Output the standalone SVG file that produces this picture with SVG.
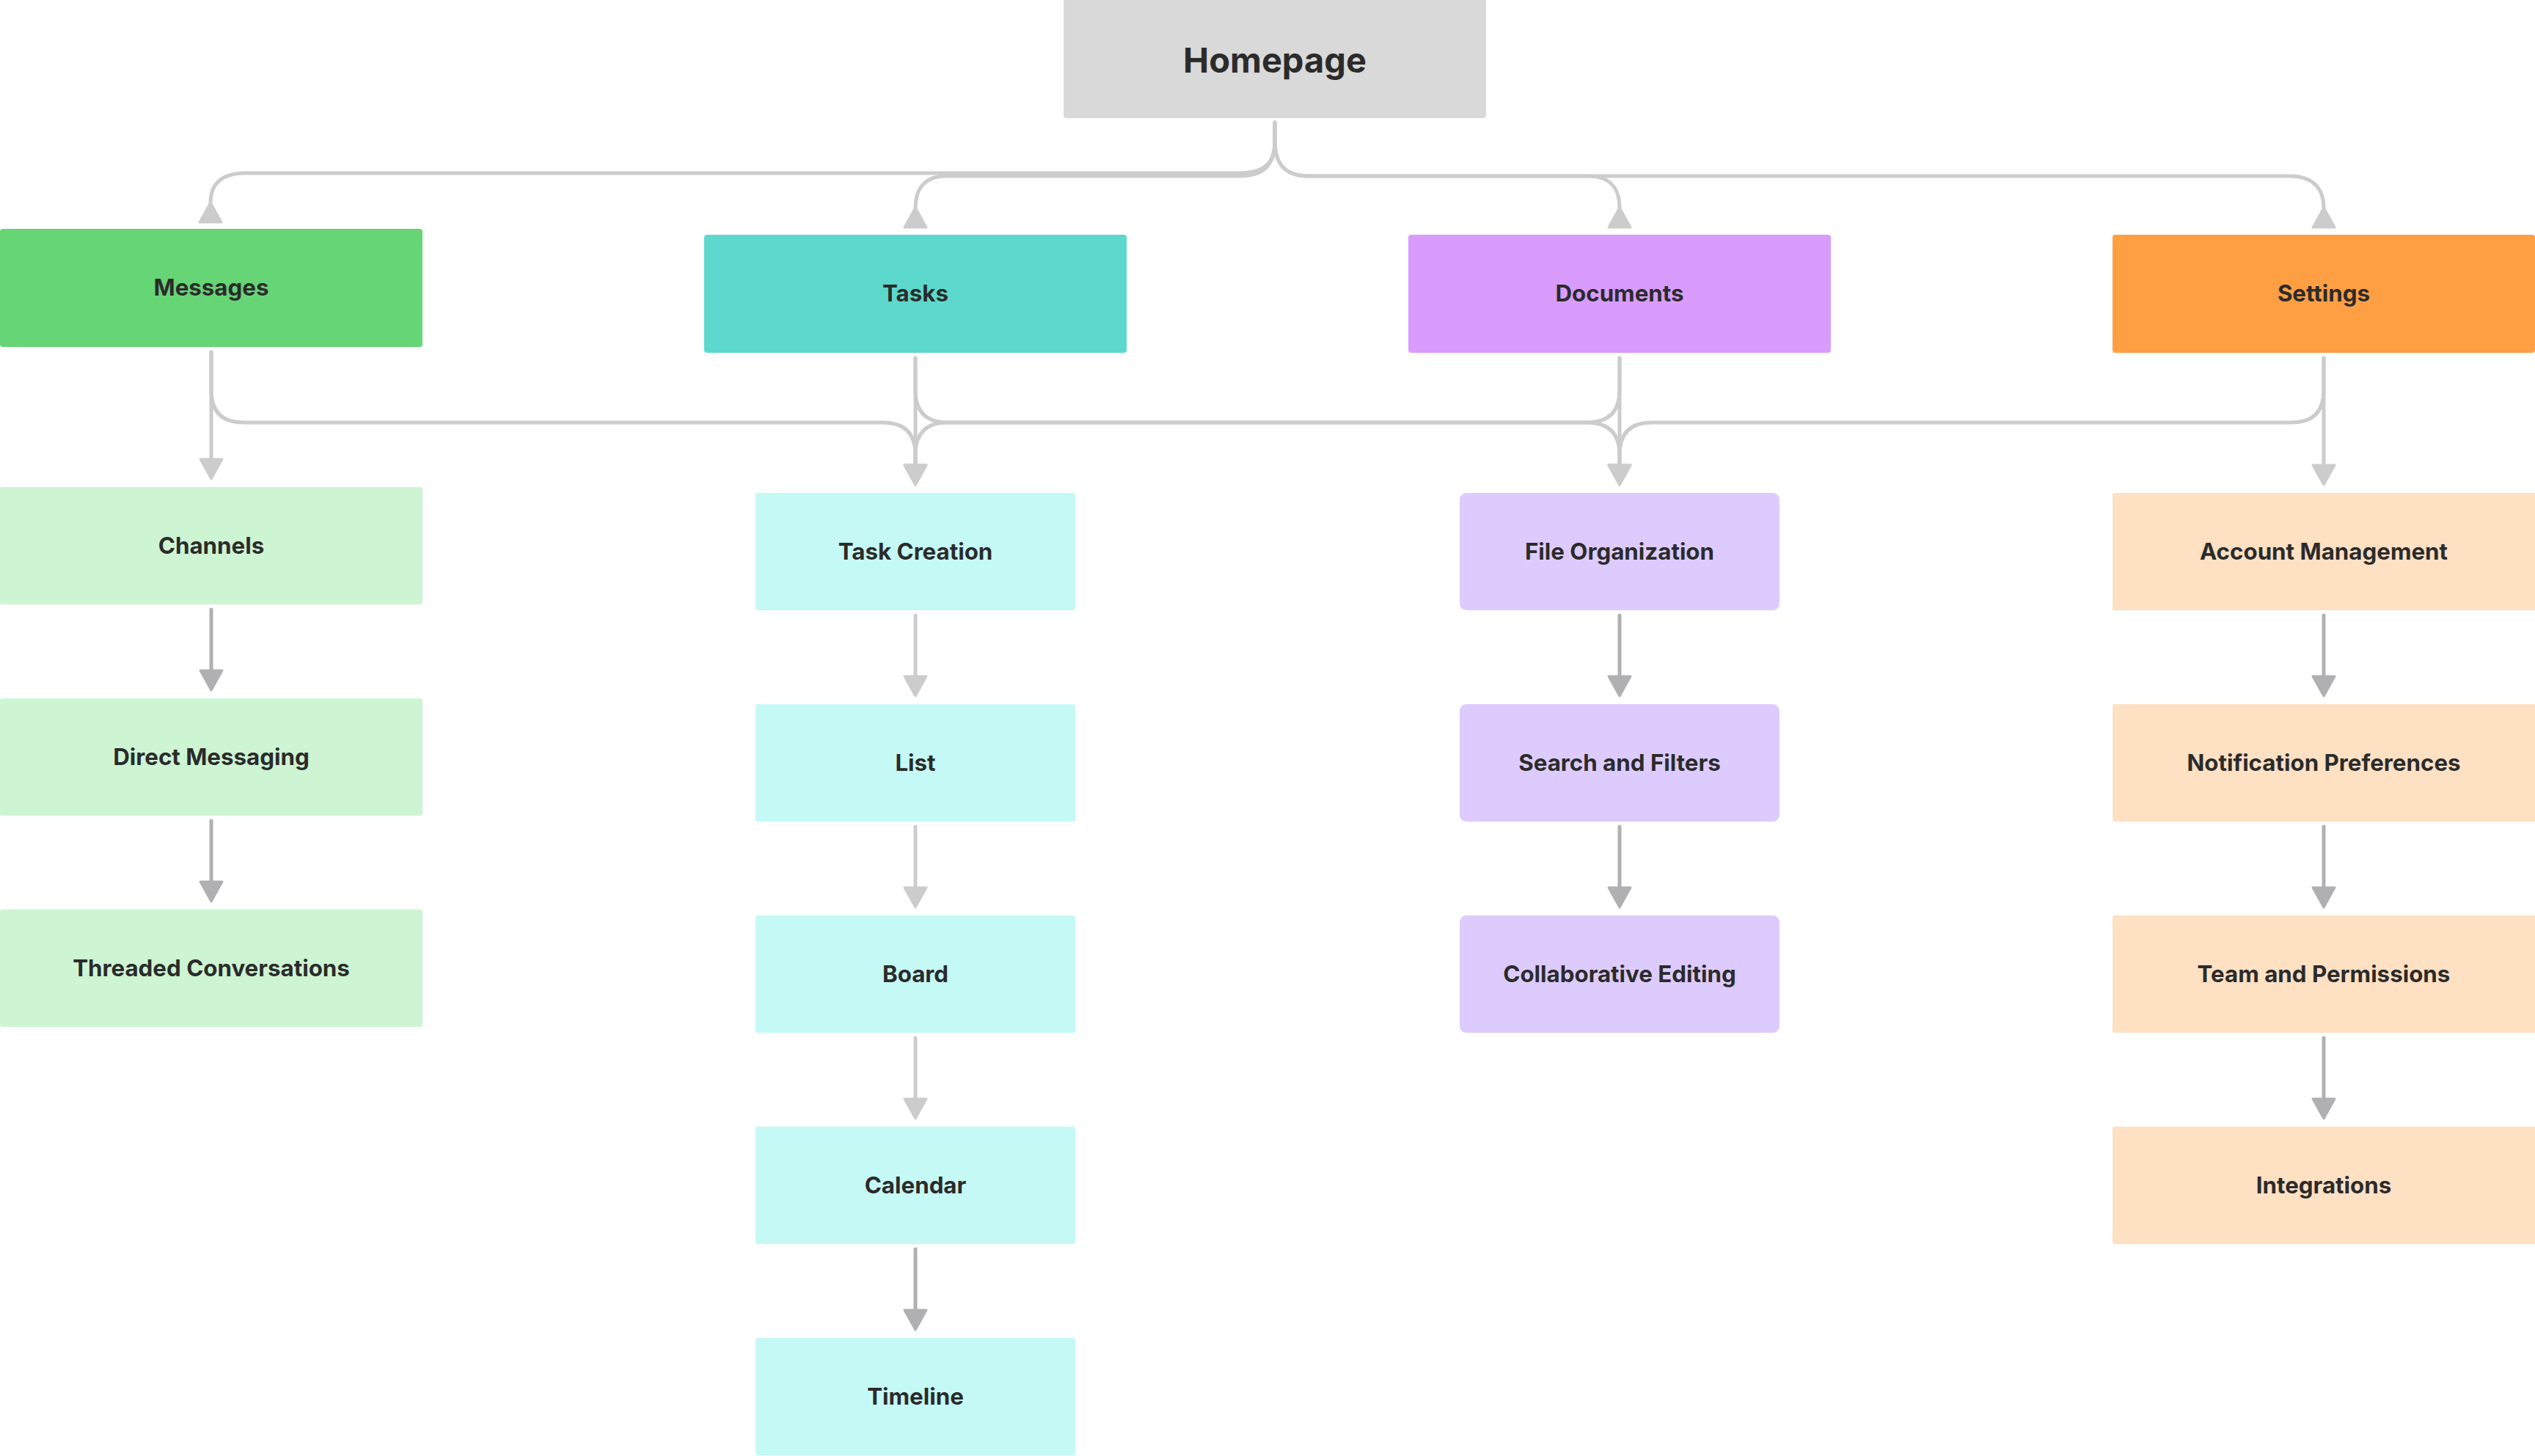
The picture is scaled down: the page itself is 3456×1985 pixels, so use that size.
<svg xmlns="http://www.w3.org/2000/svg" width="3456" height="1985" viewBox="0 0 3456 1985">
<style>
.lbl{font-family:Inter,"Noto Sans","Liberation Sans",sans-serif;font-weight:700;font-size:31.3px;fill:#2b2b2b;text-anchor:middle;dominant-baseline:central}
.big{font-size:47px}
.c{fill:none;stroke:#cdcccd;stroke-width:5;stroke-linecap:round;stroke-linejoin:round}
.d{fill:none;stroke:#b0b0b2;stroke-width:5;stroke-linecap:round}
</style>
<defs>
<marker id="ah" viewBox="-3 -3 33 36" refX="2" refY="15" markerWidth="33" markerHeight="36" markerUnits="userSpaceOnUse" orient="auto"><path d="M0,0 L27,15 L0,30 Z" fill="#cdcccd" stroke="#cdcccd" stroke-width="3" stroke-linejoin="round"/></marker>
<marker id="ahd" viewBox="-3 -3 33 36" refX="2" refY="15" markerWidth="33" markerHeight="36" markerUnits="userSpaceOnUse" orient="auto"><path d="M0,0 L27,15 L0,30 Z" fill="#b0b0b2" stroke="#b0b0b2" stroke-width="3" stroke-linejoin="round"/></marker>
<marker id="ahr" viewBox="-3 -3 33 36" refX="0" refY="15" markerWidth="33" markerHeight="36" markerUnits="userSpaceOnUse" orient="auto"><path d="M27,0 L0,15 L27,30 Z" fill="#cdcccd" stroke="#cdcccd" stroke-width="3" stroke-linejoin="round"/></marker>
</defs>
<rect width="3456" height="1985" fill="#ffffff"/>
<g id="connectors">
<path class="c" marker-end="url(#ahr)" d="M1738,167 L1738,192 C1738,224 1722,236 1690,236 L335,236 C303,236 287,250 287,276"/>
<path class="c" marker-end="url(#ahr)" d="M1738,167 L1738,192 C1738,226 1722,240 1690,240 L1290,240 C1262,240 1248,256 1248,283"/>
<path class="c" marker-end="url(#ahr)" d="M1738,167 L1738,192 C1738,226 1754,240 1784,240 L2165,240 C2194,240 2208,256 2208,283"/>
<path class="c" marker-end="url(#ahr)" d="M1738,167 L1738,192 C1738,226 1754,240 1784,240 L3122,240 C3152,240 3168,256 3168,283"/>
<path class="c" marker-end="url(#ah)" d="M288,480 L288,628"/>
<path class="c" marker-end="url(#ah)" d="M288,480 L288,532 Q288,576 332,576 L1203,576 Q1248,576 1248,620 L1248,636"/>
<path class="c" marker-end="url(#ah)" d="M1248,488 L1248,636"/>
<path class="c" marker-end="url(#ah)" d="M1248,488 L1248,532 Q1248,576 1292,576 L2163,576 Q2208,576 2208,620 L2208,636"/>
<path class="c" marker-end="url(#ah)" d="M2208,488 L2208,532 Q2208,576 2163,576 L1292,576 Q1248,576 1248,620 L1248,636"/>
<path class="c" marker-end="url(#ah)" d="M2208,488 L2208,636"/>
<path class="c" marker-end="url(#ah)" d="M3168,488 L3168,532 Q3168,576 3124,576 L2252,576 Q2208,576 2208,620 L2208,636"/>
<path class="c" marker-end="url(#ah)" d="M3168,488 L3168,636"/>
<path class="d" marker-end="url(#ahd)" d="M288,831 L288,916"/>
<path class="d" marker-end="url(#ahd)" d="M288,1119 L288,1204"/>
<path class="c" marker-end="url(#ah)" d="M1248,839 L1248,924"/>
<path class="c" marker-end="url(#ah)" d="M1248,1127 L1248,1212"/>
<path class="c" marker-end="url(#ah)" d="M1248,1415 L1248,1500"/>
<path class="d" marker-end="url(#ahd)" d="M1248,1703 L1248,1788"/>
<path class="d" marker-end="url(#ahd)" d="M2208,839 L2208,924"/>
<path class="d" marker-end="url(#ahd)" d="M2208,1127 L2208,1212"/>
<path class="d" marker-end="url(#ahd)" d="M3168,839 L3168,924"/>
<path class="d" marker-end="url(#ahd)" d="M3168,1127 L3168,1212"/>
<path class="d" marker-end="url(#ahd)" d="M3168,1415 L3168,1500"/>
</g>
<g id="homepage"><rect x="1450" y="-6" width="576" height="167" rx="4" fill="#d9d9d9"/><text class="lbl big" x="1738" y="81">Homepage</text></g>
<g id="messages"><rect x="0" y="312" width="576" height="161" rx="4" fill="#66d576"/><text class="lbl" x="288" y="392">Messages</text></g>
<g id="tasks"><rect x="960" y="320" width="576" height="161" rx="4" fill="#5cd9cc"/><text class="lbl" x="1248" y="400">Tasks</text></g>
<g id="documents"><rect x="1920" y="320" width="576" height="161" rx="4" fill="#d99cfd"/><text class="lbl" x="2208" y="400">Documents</text></g>
<g id="settings"><rect x="2880" y="320" width="576" height="161" rx="4" fill="#fe9f44"/><text class="lbl" x="3168" y="400">Settings</text></g>
<g id="channels"><rect x="0" y="664" width="576" height="160" rx="3" fill="#cdf5d3"/><text class="lbl" x="288" y="744">Channels</text></g>
<g id="direct-messaging"><rect x="0" y="952" width="576" height="160" rx="3" fill="#cdf5d3"/><text class="lbl" x="288" y="1032">Direct Messaging</text></g>
<g id="threaded-conversations"><rect x="0" y="1240" width="576" height="160" rx="3" fill="#cdf5d3"/><text class="lbl" x="288" y="1320">Threaded Conversations</text></g>
<g id="task-creation"><rect x="1030" y="672" width="436" height="160" rx="3" fill="#c5f9f5"/><text class="lbl" x="1248" y="752">Task Creation</text></g>
<g id="list"><rect x="1030" y="960" width="436" height="160" rx="3" fill="#c5f9f5"/><text class="lbl" x="1248" y="1040">List</text></g>
<g id="board"><rect x="1030" y="1248" width="436" height="160" rx="3" fill="#c5f9f5"/><text class="lbl" x="1248" y="1328">Board</text></g>
<g id="calendar"><rect x="1030" y="1536" width="436" height="160" rx="3" fill="#c5f9f5"/><text class="lbl" x="1248" y="1616">Calendar</text></g>
<g id="timeline"><rect x="1030" y="1824" width="436" height="160" rx="3" fill="#c5f9f5"/><text class="lbl" x="1248" y="1904">Timeline</text></g>
<g id="file-organization"><rect x="1990" y="672" width="436" height="160" rx="9" fill="#ddcbfd"/><text class="lbl" x="2208" y="752">File Organization</text></g>
<g id="search-and-filters"><rect x="1990" y="960" width="436" height="160" rx="9" fill="#ddcbfd"/><text class="lbl" x="2208" y="1040">Search and Filters</text></g>
<g id="collaborative-editing"><rect x="1990" y="1248" width="436" height="160" rx="9" fill="#ddcbfd"/><text class="lbl" x="2208" y="1328">Collaborative Editing</text></g>
<g id="account-management"><rect x="2880" y="672" width="582" height="160" rx="3" fill="#fee0c3"/><text class="lbl" x="3168" y="752">Account Management</text></g>
<g id="notification-preferences"><rect x="2880" y="960" width="582" height="160" rx="3" fill="#fee0c3"/><text class="lbl" x="3168" y="1040">Notification Preferences</text></g>
<g id="team-and-permissions"><rect x="2880" y="1248" width="582" height="160" rx="3" fill="#fee0c3"/><text class="lbl" x="3168" y="1328">Team and Permissions</text></g>
<g id="integrations"><rect x="2880" y="1536" width="582" height="160" rx="3" fill="#fee0c3"/><text class="lbl" x="3168" y="1616">Integrations</text></g>
</svg>
